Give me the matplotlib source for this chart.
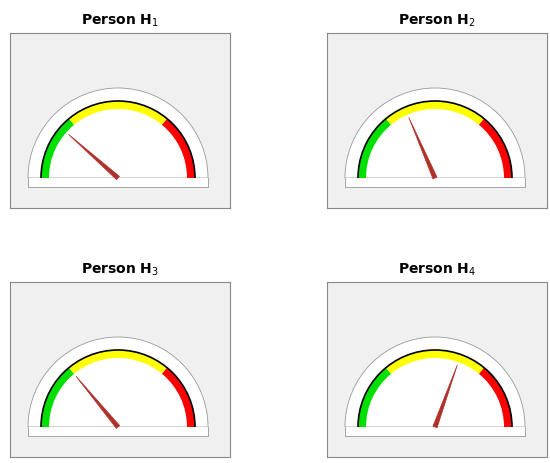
import numpy as np
import matplotlib
matplotlib.use("Agg")
import matplotlib.pyplot as plt
from matplotlib.patches import Wedge, Polygon, Rectangle, Arc

titles = ["Person H$_1$", "Person H$_2$", "Person H$_3$", "Person H$_4$"]
values = [23, 37, 28, 61]          # 0..100 scale
zone_bounds = [0, 28, 72, 100]
zone_colors = ["#00e000", "#ffff00", "#ff0000"]

fig = plt.figure(figsize=(5.5, 4.63), dpi=100)
W, H = 550, 463
boxes = [(10, 33), (327, 33), (10, 282), (327, 282)]
def ang(v):
    return 180 - 1.8 * v

for (x0, y0), title, val in zip(boxes, titles, values):
    ax = fig.add_axes([x0 / W, 1 - (y0 + 175) / H, 220 / W, 175 / H])
    ax.set_facecolor("#f0f0f0")
    ax.set_xlim(-108, 112)
    ax.set_ylim(-30, 145)
    ax.set_xticks([]); ax.set_yticks([])
    for s in ax.spines.values():
        s.set_color("#888888"); s.set_linewidth(0.8)
    ax.add_patch(Wedge((0, 0), 90, 0, 180, facecolor="white", edgecolor="#999999", lw=0.6))
    ax.add_patch(Rectangle((-90, -9), 180, 9, facecolor="white", edgecolor="none"))
    ax.plot([-90, -90, 90, 90], [0, -9, -9, 0], color="#999999", lw=0.6)
    for i, c in enumerate(zone_colors):
        ax.add_patch(Wedge((0, 0), 77, ang(zone_bounds[i + 1]), ang(zone_bounds[i]),
                           width=8, facecolor=c, edgecolor="none"))
    ax.add_patch(Arc((0, 0), 154, 154, theta1=0, theta2=180, color="black", lw=1.2))
    a = np.deg2rad(ang(val))
    L = 66
    tip = (L * np.cos(a), L * np.sin(a))
    px, py = -np.sin(a) * 2.2, np.cos(a) * 2.2
    ax.add_patch(Polygon([(px, py), (-px, -py), tip], closed=True,
                         facecolor="#b0302a", edgecolor="#b0302a", lw=0.5))
    ax.set_title(title, fontsize=10, fontweight="bold", pad=6)

fig.savefig("out.png", dpi=100)
